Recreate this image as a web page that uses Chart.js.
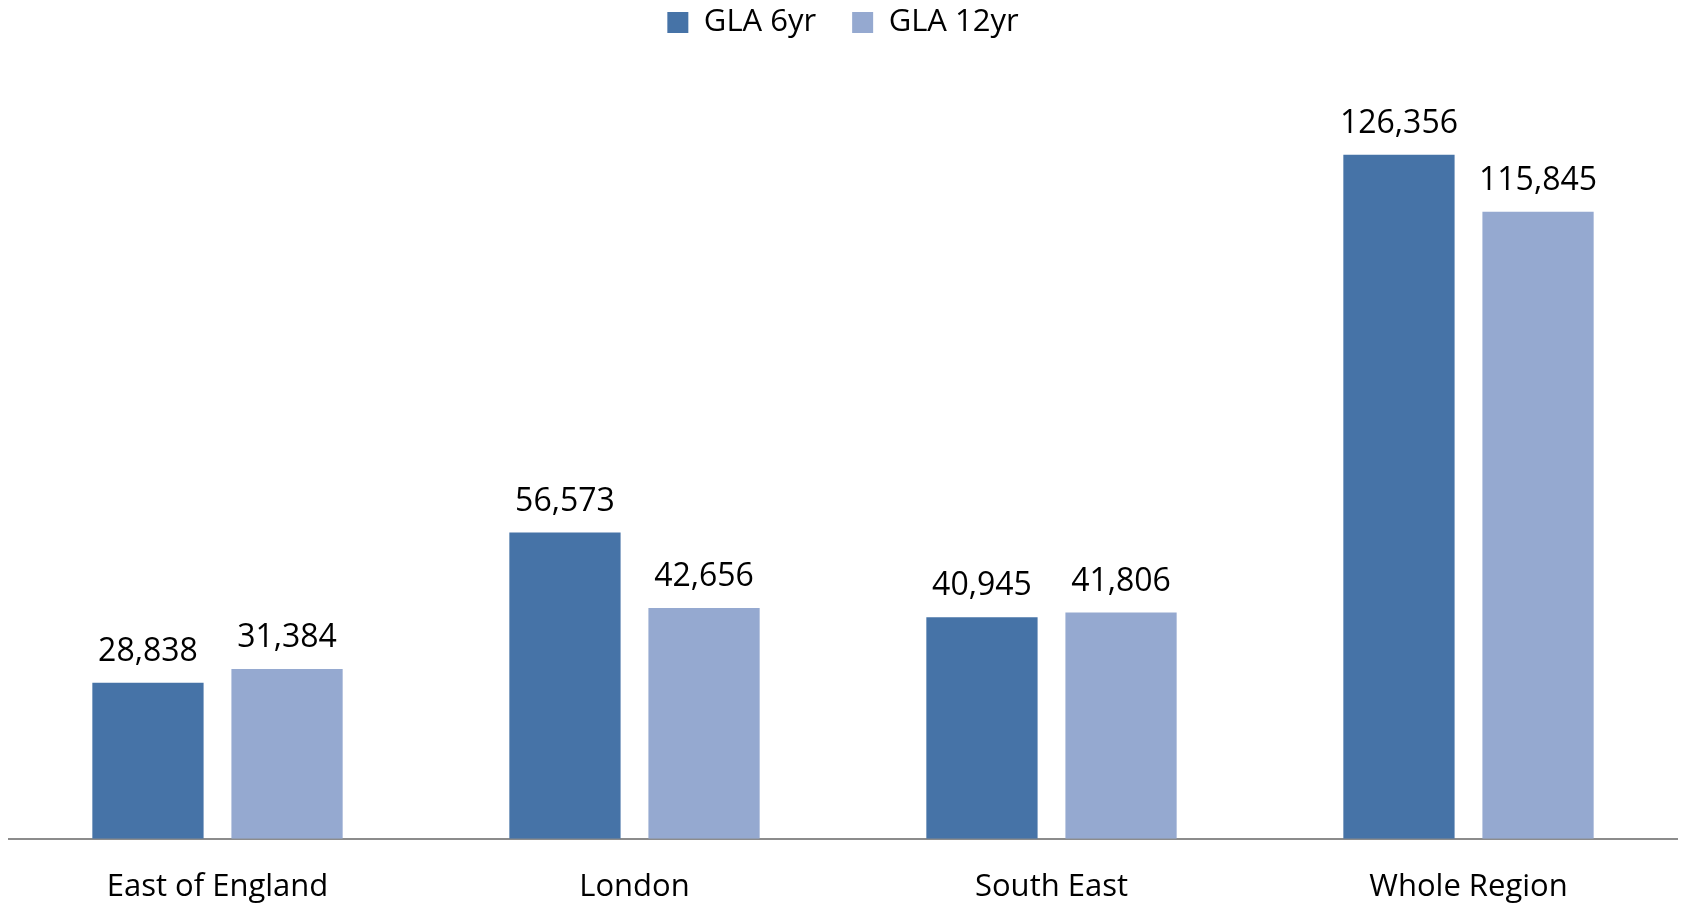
<!DOCTYPE html>
<html>
<head>
<meta charset="utf-8">
<script src="https://cdn.jsdelivr.net/npm/chart.js@4.4.1/dist/chart.umd.min.js"></script>
<style>
  html, body { margin: 0; padding: 0; background: #fff; }
  #wrap { width: 1683px; height: 906px; }
</style>
</head>
<body>
<div id="wrap"><canvas id="barChart"></canvas></div>
<script>
var regions = ["East of England", "London", "South East", "Whole Region"];
var gla6yr = [28838, 56573, 40945, 126356];
var gla12yr = [31384, 42656, 41806, 115845];

// value labels above each bar
var valueLabels = {
    id: 'valueLabels',
    afterDatasetsDraw: function (chart) {
        var ctx = chart.ctx;
        ctx.save();
        ctx.font = '32px "Open Sans"';
        ctx.fillStyle = '#000';
        ctx.textAlign = 'center';
        ctx.textBaseline = 'alphabetic';
        chart.data.datasets.forEach(function (ds, i) {
            chart.getDatasetMeta(i).data.forEach(function (bar, j) {
                ctx.fillText(ds.data[j].toLocaleString('en-GB'), bar.x, bar.y - 22);
            });
        });
        ctx.restore();
    }
};

// extra room under the legend
var legendSpace = {
    id: 'legendSpace',
    beforeInit: function (chart) {
        var fit = chart.legend.fit;
        chart.legend.fit = function () {
            fit.bind(chart.legend)();
            this.height += 33;
        };
    }
};

var ctx = document.getElementById("barChart").getContext("2d");
new Chart(ctx, {
    type: 'bar',
    data: {
        labels: regions,
        datasets: [{
            label: "GLA 6yr",
            backgroundColor: '#4673a7',
            data: gla6yr
        }, {
            label: "GLA 12yr",
            backgroundColor: '#95a9d0',
            data: gla12yr
        }]
    },
    options: {
        responsive: true,
        maintainAspectRatio: false,
        animation: false,
        layout: { padding: { left: 9, right: 6, top: -29, bottom: 0 } },
        datasets: {
            bar: { categoryPercentage: 0.667, barPercentage: 0.8 }
        },
        plugins: {
            tooltip: { enabled: false },
            legend: {
                position: 'top',
                labels: {
                    font: { family: '"Open Sans"', size: 31 },
                    color: '#000',
                    boxWidth: 21,
                    boxHeight: 21,
                    padding: 36
                }
            }
        },
        scales: {
            x: {
                grid: { display: false, drawTicks: false },
                border: { color: '#8c8c8c', width: 2 },
                ticks: {
                    font: { family: '"Open Sans"', size: 31 },
                    color: '#000',
                    padding: 30
                },
                afterFit: function (scale) {
                    scale.height -= 30;
                }
            },
            y: {
                display: false,
                min: 0,
                max: 140000
            }
        }
    },
    plugins: [valueLabels, legendSpace]
});
</script>
</body>
</html>
